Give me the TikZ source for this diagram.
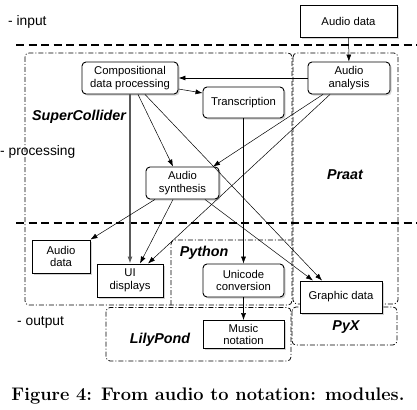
\documentclass[tikz,border=0pt]{standalone}
\usepackage{fontspec}
\newfontfamily\helv{Liberation Sans}
\usetikzlibrary{arrows.meta,shadows}

\begin{document}
\begin{tikzpicture}[x=1pt,y=-1pt,>={Latex[length=7pt,width=5pt]},
    box/.style={draw,line width=0.9pt,fill=white,inner sep=0pt,align=center,
      font=\helv\fontsize{11.3}{12.5}\selectfont,
      drop shadow={shadow xshift=1.6pt,shadow yshift=-1.6pt,opacity=0.35}},
    rbox/.style={box,rounded corners=4pt},
    region/.style={line width=0.75pt,rounded corners=4pt,dash pattern=on 5pt off 2pt on 1pt off 2pt},
    layer/.style={line width=1.4pt,dash pattern=on 8pt off 4.5pt},
    tier/.style={anchor=west,inner sep=0pt,font=\helv\fontsize{13.8}{15}\selectfont},
    tool/.style={inner sep=0pt,font=\helv\bfseries\itshape\fontsize{14.3}{16}\selectfont},
    link/.style={->,line width=0.5pt}]
  \path[use as bounding box] (0,0) rectangle (417,409);
  % modules
  \draw[region] (25,53) rectangle (292,305);
  \draw[region] (293,53) rectangle (398,304);
  \draw[region] (171,305) -- (171,240) -- (292,240);
  \draw[region] (106,307.5) rectangle (291,361);
  \draw[region] (292,307) rectangle (397,345);
  % layers
  \draw[layer] (16,45) -- (417,45);
  \draw[layer] (16,223) -- (417,223);
  \node[tier] (lin) at (8,22) {- input};
  \node[tier] (lproc) at (0,152) {- processing};
  \node[tier] (lout) at (17,322) {- output};
  \node[tool] (tsc) at (79,117) {SuperCollider};
  \node[tool] (tpraat) at (345,175) {Praat};
  \node[tool] (tpy) at (204,253) {Python};
  \node[tool] (tly) at (160,340) {LilyPond};
  \node[tool] (tpyx) at (346,327) {PyX};
  % boxes
  \node[box,minimum width=97pt,minimum height=32pt] (indata) at (348.5,21) {Audio data};
  \node[rbox,minimum width=96pt,minimum height=32pt] (comp) at (130,78) {Compositional\\data processing};
  \node[rbox,minimum width=82pt,minimum height=32pt] (ana) at (349,78) {Audio\\analysis};
  \node[rbox,minimum width=81pt,minimum height=31pt] (trans) at (243.5,102.5) {Transcription};
  \node[rbox,minimum width=73pt,minimum height=32pt] (synth) at (182.5,183) {Audio\\synthesis};
  \node[box,minimum width=58pt,minimum height=33pt] (outdata) at (61,256.5) {Audio\\data};
  \node[box,minimum width=66pt,minimum height=33pt] (ui) at (130,280.5) {UI\\displays};
  \node[rbox,minimum width=81pt,minimum height=33pt] (uni) at (243.5,280.5) {Unicode\\conversion};
  \node[box,minimum width=81pt,minimum height=28pt] (music) at (243.5,334.5) {Music\\notation};
  \node[box,minimum width=82pt,minimum height=32pt] (gfx) at (341,297) {Graphic data};
  % connections
  \draw[link] (indata) -- (ana);
  \draw[link,line width=0.8pt] (ana.west) -- (comp.east);
  \draw[link] ([yshift=-11pt]comp.east) -- ([yshift=9.5pt]trans.west);
  \draw[link] ([xshift=8pt]comp.south) -- ([xshift=-9.5pt]synth.north);
  \draw[link,line width=1.1pt,black!65] (comp.south) -- (ui.north);
  \draw[link] ([xshift=15pt]comp.south) -- ([xshift=-19pt]gfx.north);
  \draw[link] ([xshift=-26pt]ana.south) -- ([xshift=30.5pt]synth.north);
  \draw[link] ([xshift=-19pt]ana.south) -- ([xshift=18pt]ui.north);
  \draw[link] ([xshift=-27.5pt]synth.south) -- (outdata.north east);
  \draw[link] ([xshift=-9.5pt]synth.south) -- ([xshift=10pt]ui.north);
  \draw[link] ([xshift=22.5pt]synth.south) -- ([xshift=-28pt]gfx.north);
  \draw[link] (trans) -- (uni);
  \draw[link] (uni) -- (music);
  % caption
  \node[inner sep=0pt,font=\bfseries\fontsize{18.2}{20}\selectfont] (cap) at (208,396) {Figure 4: From audio to notation: modules.};
\end{tikzpicture}
\end{document}
